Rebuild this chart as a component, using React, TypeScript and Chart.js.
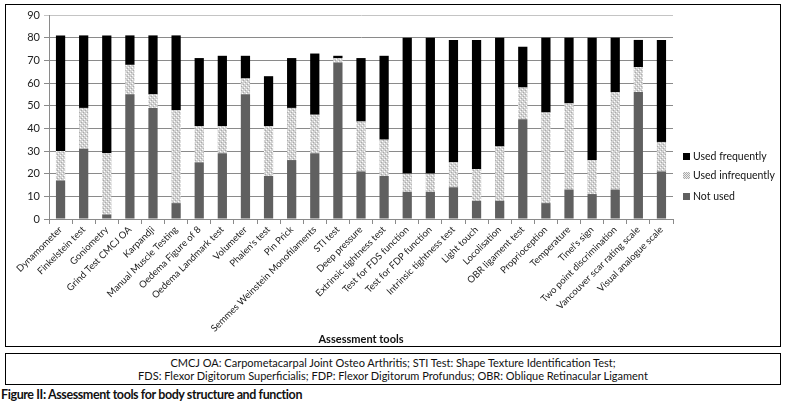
import React, { useEffect, useRef } from "react";
import { Chart, registerables } from "chart.js";

Chart.register(...registerables);

const categories = [
  "Dynamometer",
  "Finkelstein test",
  "Goniometry",
  "Grind Test CMCJ OA",
  "Karpandji",
  "Manual Muscle Testing",
  "Oedema Figure of 8",
  "Oedema Landmark test",
  "Volumeter",
  "Phalen's test",
  "Pin Prick",
  "Semmes Weinstein Monofilaments",
  "STI test",
  "Deep pressure",
  "Extrinsic tightness test",
  "Test for FDS function",
  "Test for FDP function",
  "Intrinsic tightness test",
  "Light touch",
  "Locolisation",
  "OBR ligament test",
  "Proprioception",
  "Temperature",
  "Tinel's sign",
  "Two point discrimination",
  "Vancouver scar rating scale",
  "Visual analogue scale",
];

const notUsed = [17, 31, 2, 55, 49, 7, 25, 29, 55, 19, 26, 29, 69, 21, 19, 12, 12, 14, 8, 8, 44, 7, 13, 11, 13, 56, 21];
const usedInfrequently = [13, 18, 27, 13, 6, 41, 16, 12, 7, 22, 23, 17, 2, 22, 16, 8, 8, 11, 14, 24, 14, 40, 38, 15, 43, 11, 13];
const usedFrequently = [51, 32, 52, 13, 26, 33, 30, 31, 10, 22, 22, 27, 1, 28, 37, 60, 60, 54, 57, 48, 18, 33, 29, 54, 24, 12, 45];

const yTicks = [0, 10, 20, 30, 40, 50, 60, 70, 80, 90];

const FONT = "Lato, 'Open Sans', sans-serif";

function makePattern(): CanvasPattern | string {
  const c = document.createElement("canvas");
  c.width = 4;
  c.height = 4;
  const g = c.getContext("2d");
  if (!g) return "#cccccc";
  g.fillStyle = "#d2d2d2";
  g.fillRect(0, 0, 4, 4);
  g.fillStyle = "#ffffff";
  g.fillRect(1, 1, 1, 1);
  g.fillRect(3, 3, 1, 1);
  g.fillStyle = "#a9a9a9";
  g.fillRect(0, 2, 1, 1);
  g.fillRect(2, 0, 1, 1);
  const p = g.createPattern(c, "repeat");
  return p || "#cccccc";
}

export default function App() {
  const ref = useRef<HTMLCanvasElement | null>(null);

  useEffect(() => {
    if (!ref.current) return;
    const pattern = makePattern();
    const chart = new Chart(ref.current, {
      type: "bar",
      data: {
        labels: categories,
        datasets: [
          { label: "Not used", data: notUsed, backgroundColor: "#606060", barPercentage: 0.4, categoryPercentage: 1 },
          { label: "Used infrequently", data: usedInfrequently, backgroundColor: pattern as any, barPercentage: 0.4, categoryPercentage: 1 },
          { label: "Used frequently", data: usedFrequently, backgroundColor: "#000000", barPercentage: 0.4, categoryPercentage: 1 },
        ],
      },
      options: {
        animation: false,
        responsive: false,
        maintainAspectRatio: false,
        layout: { padding: { left: 0, right: 108, top: 11, bottom: 0 } },
        plugins: { legend: { display: false }, tooltip: { enabled: false } },
        scales: {
          x: {
            stacked: true,
            grid: { display: true, drawOnChartArea: false, drawTicks: true, tickLength: 5, color: "#8a8a8a", offset: true },
            border: { color: "#8a8a8a" },
            ticks: {
              autoSkip: false,
              minRotation: 45,
              maxRotation: 45,
              color: "#222",
              padding: 0,
              font: { family: FONT, size: 9.5 },
            },
            title: {
              display: true,
              text: "Assessment tools",
              color: "#111",
              font: { family: FONT, size: 11, weight: "bold" },
              padding: { top: 0, bottom: 1 },
            },
            afterFit: (s: any) => {
              s.height = 128;
            },
          },
          y: {
            stacked: true,
            min: 0,
            max: 90,
            afterBuildTicks: (s: any) => {
              s.ticks = yTicks.map((v) => ({ value: v }));
            },
            grid: {
              color: (ctx: any) => (ctx.tick && ctx.tick.value === 90 ? "#c4c4c4" : "#8a8a8a"),
              tickLength: 5,
            },
            border: { color: "#8a8a8a" },
            ticks: { color: "#222", padding: 4, font: { family: FONT, size: 11 } },
            afterFit: (s: any) => {
              s.width = 44;
            },
          },
        },
      },
    });
    return () => chart.destroy();
  }, []);

  const legendItem = (label: string, bg: string, top: number) => (
    <div style={{ position: "absolute", left: 683, top, display: "flex", alignItems: "center", fontSize: 10.5, color: "#111", whiteSpace: "nowrap" }}>
      <span style={{ display: "inline-block", width: 7, height: 7, background: bg, marginRight: 3 }} />
      {label}
    </div>
  );

  return (
    <div style={{ position: "absolute", left: 0, top: 0, width: 789, height: 406, background: "#fff", fontFamily: FONT, overflow: "hidden" }}>
      <div style={{ position: "absolute", left: 5, top: 4, width: 776, height: 343, border: "1.5px solid #000", boxSizing: "border-box" }} />
      <canvas ref={ref} width={776} height={343} style={{ position: "absolute", left: 5, top: 4, width: 776, height: 343 }} />
      {legendItem("Used frequently", "#000", 150)}
      {legendItem("Used infrequently", "repeating-conic-gradient(#aaa 0 25%, #eee 0 50%) 0 0 / 2px 2px", 169)}
      {legendItem("Not used", "#606060", 190)}
      <div style={{ position: "absolute", left: 5, top: 353, width: 776, height: 32, border: "1.5px solid #000", boxSizing: "border-box", textAlign: "center", fontSize: 11, lineHeight: "13px", paddingTop: 2, color: "#111" }}>
        <div>CMCJ OA: Carpometacarpal Joint Osteo Arthritis; STI Test: Shape Texture Identification Test;</div>
        <div>FDS: Flexor Digitorum Superficialis; FDP: Flexor Digitorum Profundus; OBR: Oblique Retinacular Ligament</div>
      </div>
      <div style={{ position: "absolute", left: 1, top: 387, fontSize: 12.5, letterSpacing: -0.4, fontWeight: "bold", color: "#111", whiteSpace: "nowrap", lineHeight: "16px" }}>
        Figure II: Assessment tools for body structure and function
      </div>
    </div>
  );
}
